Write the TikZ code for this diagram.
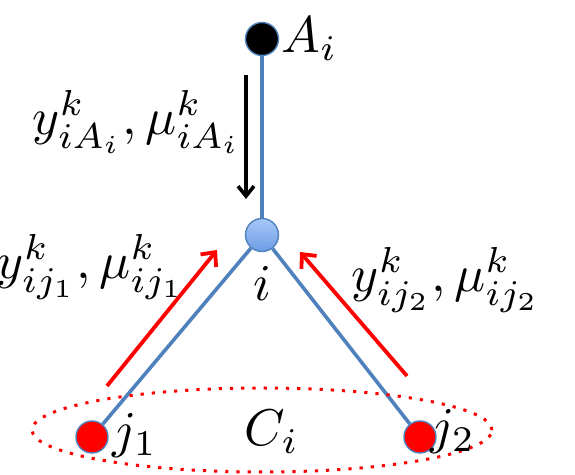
\documentclass[tikz,border=0pt]{standalone}
\usepackage{amsmath}
\usepackage{graphicx}
\usepackage{xcolor}
\usepackage{tikz}
\usetikzlibrary{shapes,arrows,arrows.meta,positioning}
\definecolor{edgeblue}{RGB}{79,129,189}
\definecolor{lightblue}{RGB}{168,200,248}
\definecolor{midblue}{RGB}{108,156,228}
\newcommand{\bigmath}[1]{\scalebox{2.58}{$#1$}}

\begin{document}
\begin{tikzpicture}[x=0.5pt, y=-0.5pt]
        \useasboundingbox (0,0) rectangle (575,475);
        % Nodes
        \node[draw=edgeblue, line width=0.7pt, circle, fill=black, minimum size=16.5pt, inner sep=0pt] (ai) at (262,39) {};
        \node[draw=edgeblue, line width=0.7pt, circle, top color=lightblue, bottom color=midblue, minimum size=16.5pt, inner sep=0pt] (i) at (262,235) {};
        \node[draw=edgeblue, line width=0.7pt, circle, fill=red, minimum size=16pt, inner sep=0pt] (j1) at (92,437) {};
        \node[draw=edgeblue, line width=0.7pt, circle, fill=red, minimum size=16pt, inner sep=0pt] (j2) at (420,437) {};
        
        % Edges
        \draw[edgeblue, line width=1.8pt] (ai) -- (i);
        \draw[edgeblue, line width=1.8pt] (i) -- (j1);
        \draw[edgeblue, line width=1.8pt] (i) -- (j2);
        
        % Cluster
        \node[draw=red, dash pattern=on 1.6pt off 4pt, line width=1.5pt, ellipse, minimum width=230pt, minimum height=42pt] (ci) at (262,430) {};
        
        % Messages
        \coordinate (m0s) at (246,75);
        \coordinate (m0e) at (246,199);
        \coordinate (m1s) at (107,386);
        \coordinate (m1e) at (217,250);
        \coordinate (m2s) at (407,376);
        \coordinate (m2e) at (300,252);
        \draw[-{Straight Barb[length=5pt, width=8pt]}, line width=1.8pt] (m0s) -- (m0e);
        \draw[-{Straight Barb[length=5.5pt, width=10pt]}, red, line width=1.9pt] (m1s) -- (m1e);
        \draw[-{Straight Barb[length=5.5pt, width=10pt]}, red, line width=1.9pt] (m2s) -- (m2e);
        
        % Labels
        \node[right=0pt of ai, inner sep=1pt] (lai) {\bigmath{A_i}};
        \node (lm0) at (137,122) {\bigmath{y^k_{iA_i},\mu^k_{iA_i}}};
        \node (li) at (262,283) {\bigmath{i}};
        \node (lm1) at (91,267) {\bigmath{y^k_{ij_1},\mu^k_{ij_1}}};
        \node (lm2) at (446,280) {\bigmath{y^k_{ij_2},\mu^k_{ij_2}}};
        \node (lj1) at (135,436) {\bigmath{j_1}};
        \node (lci) at (272,432) {\bigmath{C_i}};
        \node (lj2) at (453,432) {\bigmath{j_2}};
    \end{tikzpicture}
\end{document}
